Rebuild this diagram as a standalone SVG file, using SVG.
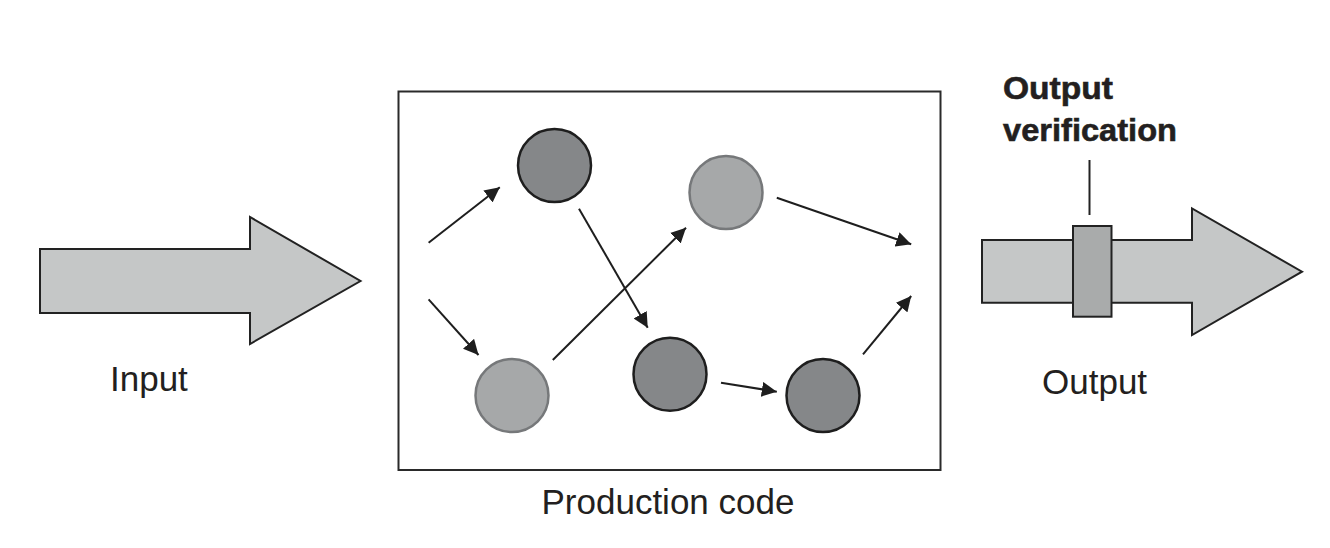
<svg xmlns="http://www.w3.org/2000/svg" width="1330" height="548" viewBox="0 0 1330 548">
<style>
.big{fill:#c5c7c7;stroke:#222;stroke-width:2;stroke-linejoin:miter}
.dark{fill:#858789;stroke:#1e1e1e;stroke-width:2.5}
.light{fill:#a6a8a9;stroke:#76787a;stroke-width:2.5}
.lbl{font-family:"Liberation Sans",Arial,sans-serif;font-size:35px;fill:#231f20}
.bold{font-family:"Liberation Sans",Arial,sans-serif;font-weight:bold;font-size:32px;fill:#231f20;stroke:#231f20;stroke-width:0.6}
.conn line{stroke:#1e1e1e;stroke-width:2}
</style>
<defs>
<marker id="ah" viewBox="0 0 10 10" refX="10" refY="5" markerWidth="7.5" markerHeight="7.5" markerUnits="strokeWidth" orient="auto">
<path d="M0,0 L10,5 L0,10 z" fill="#1e1e1e"/>
</marker>
</defs>
<rect width="1330" height="548" fill="#fff"/>
<g id="input">
<polygon class="big" points="40,249 250,249 250,217 360.5,281 250,344 250,313 40,313"/>
<text class="lbl" x="110" y="390.5">Input</text>
</g>
<g id="production">
<rect x="398.5" y="91.5" width="542" height="378.5" fill="#fff" stroke="#2a2a2a" stroke-width="2"/>
<text class="lbl" x="541.5" y="514">Production code</text>
</g>
<g id="n1"><circle class="dark" cx="554.5" cy="165.5" r="36.5"/></g>
<g id="n2"><circle class="light" cx="726" cy="192.5" r="36.5"/></g>
<g id="n3"><circle class="light" cx="512" cy="395.5" r="36.5"/></g>
<g id="n4"><circle class="dark" cx="670" cy="374.3" r="36.5"/></g>
<g id="n5"><circle class="dark" cx="823" cy="395.5" r="36.5"/></g>
<g id="output">
<polygon class="big" points="982,240 1192,240 1192,208.5 1302,271.7 1192,335 1192,302.7 982,302.7"/>
<rect x="1073" y="226" width="38.5" height="90.7" fill="#a9abab" stroke="#222" stroke-width="2"/>
<text class="lbl" x="1042" y="394.3">Output</text>
</g>
<g id="verification">
<line x1="1089.5" y1="160" x2="1089.5" y2="215" stroke="#222" stroke-width="2"/>
<text class="bold" x="1003" y="99" textLength="110" lengthAdjust="spacingAndGlyphs">Output</text>
<text class="bold" x="1003" y="141" textLength="174" lengthAdjust="spacingAndGlyphs">verification</text>
</g>
<g id="connectors" class="conn">
<line x1="428.6" y1="242.7" x2="499.8" y2="187.3" marker-end="url(#ah)"/>
<line x1="428.6" y1="299.3" x2="478.5" y2="355" marker-end="url(#ah)"/>
<line x1="579" y1="208.7" x2="647.7" y2="327.7" marker-end="url(#ah)"/>
<line x1="552.8" y1="360" x2="686" y2="227.7" marker-end="url(#ah)"/>
<line x1="776.8" y1="197.7" x2="911.2" y2="244.3" marker-end="url(#ah)"/>
<line x1="863" y1="354.3" x2="911.2" y2="296" marker-end="url(#ah)"/>
<line x1="721" y1="382.7" x2="776.8" y2="391.7" marker-end="url(#ah)"/>
</g>
</svg>
